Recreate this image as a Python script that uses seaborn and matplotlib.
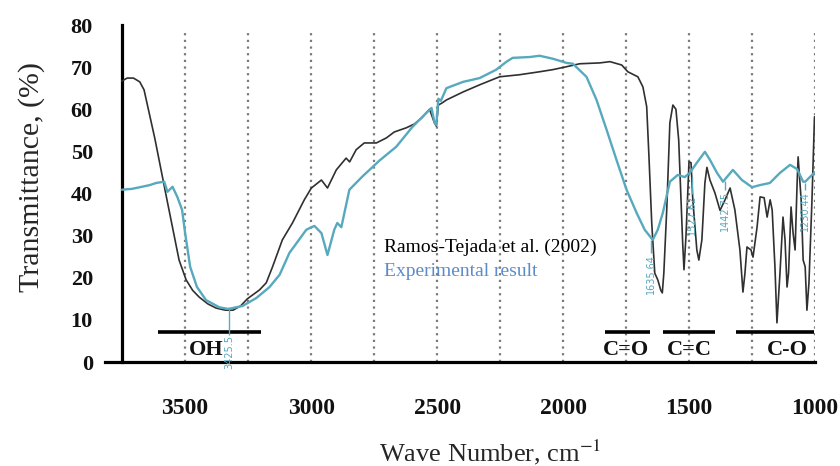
import numpy as np
import pandas as pd
import matplotlib
matplotlib.use("Agg")
import matplotlib.pyplot as plt
import seaborn as sns
from matplotlib.ticker import MultipleLocator

# ---------------- data ----------------
black_wn = [3751, 3730, 3705, 3680, 3663, 3620, 3572, 3524, 3496, 3470, 3444, 3410,
            3377, 3340, 3310, 3280, 3253, 3205, 3178, 3153, 3114, 3074, 3027, 2999,
            2959, 2935, 2900, 2861, 2847, 2821, 2789, 2741, 2701, 2670, 2622, 2590,
            2560, 2530, 2512, 2503, 2495, 2480, 2463, 2397, 2331, 2252, 2172, 2093,
            2041, 1986, 1934, 1854, 1814, 1767, 1743, 1703, 1683, 1668, 1659, 1648,
            1636, 1624, 1612, 1606, 1600, 1588, 1576, 1564, 1552, 1541, 1525, 1520,
            1512, 1500, 1492, 1485, 1469, 1461, 1449, 1437, 1429, 1417, 1397, 1377,
            1357, 1337, 1318, 1298, 1286, 1278, 1270, 1254, 1246, 1230, 1218, 1202,
            1190, 1178, 1170, 1159, 1151, 1139, 1127, 1119, 1111, 1105, 1095, 1087,
            1079, 1071, 1067, 1055, 1047, 1039, 1032, 1024, 1012, 1002]
black_t = [66.7, 67.4, 67.4, 66.5, 64.6, 53.0, 38.5, 24.2, 19.5, 17.0, 15.4, 13.8,
           12.8, 12.3, 12.3, 13.3, 15.0, 17.1, 18.8, 22.6, 29.0, 33.0, 38.5, 41.3,
           43.2, 41.3, 45.6, 48.4, 47.5, 50.4, 52.0, 52.0, 53.2, 54.6, 55.6, 56.5,
           58.0, 60.0, 57.0, 56.0, 61.0, 61.5, 62.2, 64.1, 65.8, 67.7, 68.2, 68.9,
           69.4, 70.1, 70.8, 71.0, 71.3, 70.5, 68.9, 67.7, 65.3, 60.6, 48.7, 33.0,
           21.1, 19.5, 17.0, 16.4, 21.1, 36.8, 56.8, 61.0, 60.0, 52.7, 28.0, 21.9,
           30.0, 47.5, 47.3, 38.5, 26.6, 24.2, 29.0, 42.5, 46.2, 43.2, 40.1, 36.0,
           38.5, 41.3, 36.1, 26.6, 16.6, 21.1, 27.3, 26.6, 24.9, 32.0, 39.2, 39.0,
           34.4, 38.5, 36.1, 22.6, 9.3, 21.1, 34.4, 29.0, 17.8, 21.1, 36.8, 30.6,
           26.6, 42.5, 48.7, 38.5, 24.2, 22.6, 12.3, 18.8, 38.5, 58.2]

blue_wn = [3751, 3711, 3671, 3640, 3615, 3583, 3570, 3550, 3531, 3512, 3500, 3480,
           3453, 3417, 3365, 3330, 3312, 3272, 3217, 3165, 3125, 3086, 3019, 2987,
           2959, 2935, 2908, 2896, 2880, 2848, 2797, 2729, 2662, 2598, 2543, 2522,
           2510, 2503, 2495, 2485, 2463, 2397, 2331, 2265, 2224, 2200, 2132, 2093,
           2041, 1986, 1961, 1907, 1867, 1827, 1788, 1748, 1708, 1676, 1644, 1624,
           1604, 1576, 1545, 1517, 1497, 1469, 1437, 1417, 1389, 1365, 1326, 1290,
           1250, 1218, 1179, 1139, 1099, 1071, 1047, 1039, 1000]
blue_t = [40.9, 41.1, 41.6, 42.0, 42.5, 42.8, 40.4, 41.6, 39.2, 36.1, 30.6, 22.6,
          17.8, 14.7, 13.0, 12.6, 12.8, 13.3, 15.2, 17.8, 20.7, 25.9, 31.4, 32.3,
          30.6, 25.4, 31.4, 33.0, 32.0, 40.9, 44.0, 47.8, 51.1, 55.8, 59.1, 60.3,
          56.8, 56.3, 62.5, 62.0, 65.0, 66.5, 67.4, 69.4, 71.3, 72.2, 72.4, 72.7,
          72.0, 71.0, 70.8, 67.7, 62.2, 55.1, 48.0, 40.9, 35.4, 31.4, 29.0, 31.4,
          35.4, 42.8, 44.4, 43.9, 44.9, 47.3, 49.9, 48.0, 44.9, 42.8, 45.6, 43.2,
          41.5, 42.0, 42.5, 44.9, 46.8, 45.8, 42.8, 42.8, 45.1]

series_names = ["Ramos-Tejada et al. (2002)", "Experimental result"]

band_labels = ["OH", "C=O", "C=C", "C-O"]
band_start = [3607, 1834, 1604, 1315]
band_end = [3198, 1655, 1398, 1004]
band_text_x = [3416, 1750, 1500, 1111]

peak_labels = ["3425.5", "1635.64", "1527.62", "1442.75", "1230.44"]
peak_wn = [3324, 1650, 1489, 1357, 1040]
peak_curve_t = [12.6, 29.0, 44.0, 43.0, 42.6]
peak_text_t = [6.3, 25.6, 39.6, 40.6, 40.6]

grid_wn = [3500, 3250, 3000, 2750, 2500, 2250, 2000, 1750, 1500, 1250, 1000]

# ---------------- style ----------------
sns.set_theme(style="white")
plt.rcParams["font.family"] = ["Liberation Serif", "DejaVu Sans"]
plt.rcParams["mathtext.fontset"] = "stix"

BLACK = "#303030"
TEAL = "#57a9bd"
LEG_BLUE = "#5b8bc9"

fig = plt.figure(figsize=(8.4, 4.66), dpi=100)
ax = fig.add_axes([105 / 840, 104 / 466, 710 / 840, 337 / 466])

df = pd.concat([
    pd.DataFrame({"wn": black_wn, "T": black_t, "series": series_names[0]}),
    pd.DataFrame({"wn": blue_wn, "T": blue_t, "series": series_names[1]}),
])

# dotted vertical grid lines
for g in grid_wn:
    ax.axvline(g, ymin=0, ymax=0.985, color="#7a7a7a", ls=(0, (1, 2.0)), lw=1.6, zorder=1)

sns.lineplot(data=df, x="wn", y="T", hue="series", palette=[BLACK, TEAL],
             estimator=None, sort=True, legend=False, ax=ax, zorder=3)
ax.lines[-2].set_linewidth(1.2)
ax.lines[-1].set_linewidth(1.7)

ax.set_xlim(3818, 1000)
ax.set_ylim(0, 80)

# spines / ticks
for s in ["top", "right"]:
    ax.spines[s].set_visible(False)
ax.spines["left"].set_position(("data", 3750))
for s in ["left", "bottom"]:
    ax.spines[s].set_linewidth(2.3)
    ax.spines[s].set_color("black")

ax.xaxis.set_major_locator(MultipleLocator(500))
ax.xaxis.set_minor_locator(MultipleLocator(250))
ax.yaxis.set_major_locator(MultipleLocator(10))
ax.yaxis.set_minor_locator(MultipleLocator(5))
ax.tick_params(axis="both", which="major", direction="out", length=12, width=2.3,
               color="black")
ax.tick_params(axis="both", which="minor", direction="out", length=6.5, width=2.3,
               color="black")
ax.tick_params(axis="x", which="major", pad=14, labelsize=17)
ax.tick_params(axis="y", which="major", pad=9, labelsize=16)
ax.set_xticks([3500, 3000, 2500, 2000, 1500, 1000])
for lab in ax.get_xticklabels() + ax.get_yticklabels():
    lab.set_fontweight("bold")
    lab.set_color("#111111")

ax.set_xlabel("Wave Number, cm$^{-1}$", fontsize=19)
ax.set_ylabel("Transmittance, (%)", fontsize=21.5)
ax.xaxis.set_label_coords(0.542, -0.225)
ax.yaxis.set_label_coords(-0.085, 0.55)

# functional-group bands
for lab, a, b, tx in zip(band_labels, band_start, band_end, band_text_x):
    ax.hlines(7.2, a, b, color="black", lw=2.6, zorder=4)
    ax.text(tx, 2.9, lab, ha="center", va="center", fontsize=16,
            fontweight="bold", color="#111111", zorder=4)

# peak markers
for lab, w, ct, tt in zip(peak_labels, peak_wn, peak_curve_t, peak_text_t):
    ax.vlines(w, tt + 0.2, ct, color=TEAL, lw=1.0, zorder=4)
    ax.text(w, tt, lab, rotation=90, ha="center", va="top", fontsize=7,
            color=TEAL, family="DejaVu Sans", clip_on=False, zorder=4)

# legend text
ax.text(2709, 27.3, series_names[0], fontsize=14, color="black", va="center", ha="left")
ax.text(2709, 21.6, series_names[1], fontsize=14, color=LEG_BLUE, va="center", ha="left")

fig.savefig("out.png", dpi=100)
